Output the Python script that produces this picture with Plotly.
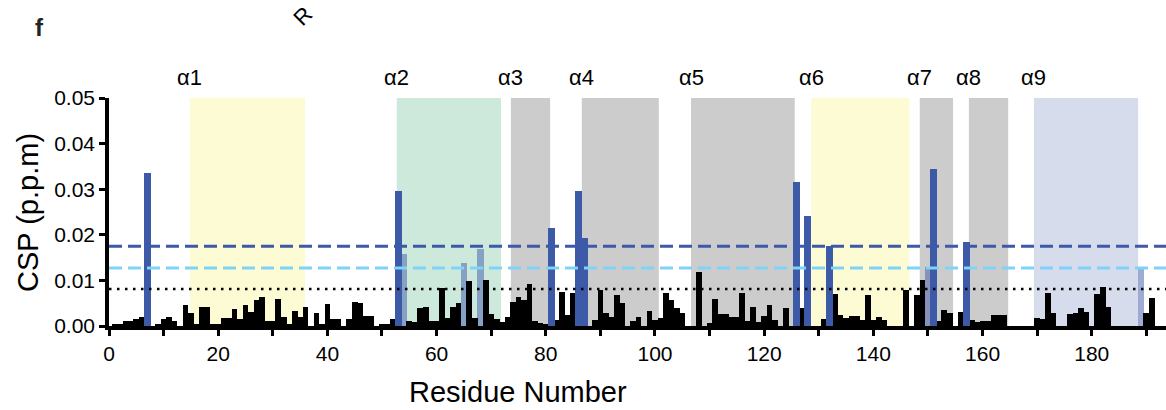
import plotly.graph_objects as go

# ---------------- data ----------------
residues = list(range(1, 193))
csp = [
    0.0003, 0.0003, 0.0011, 0.0012, 0.0015, 0.0020, 0.0336, 0.0000, 0.0004, 0.0016,  # 1-10
    0.0020, 0.0011, 0.0000, 0.0046, 0.0028, 0.0003, 0.0042, 0.0042, 0.0003, 0.0003,  # 11-20
    0.0017, 0.0017, 0.0037, 0.0015, 0.0046, 0.0031, 0.0056, 0.0064, 0.0011, 0.0011,  # 21-30
    0.0059, 0.0020, 0.0004, 0.0033, 0.0020, 0.0042, 0.0000, 0.0029, 0.0004, 0.0048,  # 31-40
    0.0015, 0.0015, 0.0000, 0.0015, 0.0053, 0.0051, 0.0022, 0.0022, 0.0000, 0.0004,  # 41-50
    0.0004, 0.0016, 0.0297, 0.0159, 0.0012, 0.0009, 0.0039, 0.0042, 0.0012, 0.0012,  # 51-60
    0.0083, 0.0017, 0.0042, 0.0050, 0.0138, 0.0099, 0.0017, 0.0168, 0.0101, 0.0026,  # 61-70
    0.0015, 0.0009, 0.0020, 0.0053, 0.0064, 0.0057, 0.0092, 0.0011, 0.0007, 0.0003,  # 71-80
    0.0214, 0.0013, 0.0075, 0.0024, 0.0073, 0.0297, 0.0194, 0.0000, 0.0013, 0.0078,  # 81-90
    0.0029, 0.0020, 0.0067, 0.0050, 0.0000, 0.0011, 0.0020, 0.0000, 0.0034, 0.0013,  # 91-100
    0.0018, 0.0072, 0.0056, 0.0040, 0.0029, 0.0000, 0.0000, 0.0119, 0.0000, 0.0006,  # 101-110
    0.0059, 0.0027, 0.0027, 0.0020, 0.0020, 0.0073, 0.0010, 0.0042, 0.0008, 0.0023,  # 111-120
    0.0045, 0.0014, 0.0000, 0.0040, 0.0000, 0.0316, 0.0040, 0.0242, 0.0000, 0.0000,  # 121-130
    0.0016, 0.0176, 0.0070, 0.0024, 0.0018, 0.0022, 0.0022, 0.0013, 0.0068, 0.0013,  # 131-140
    0.0020, 0.0013, 0.0000, 0.0000, 0.0000, 0.0079, 0.0000, 0.0067, 0.0101, 0.0129,  # 141-150
    0.0345, 0.0011, 0.0035, 0.0029, 0.0000, 0.0031, 0.0185, 0.0013, 0.0008, 0.0010,  # 151-160
    0.0010, 0.0024, 0.0024, 0.0024, 0.0000, 0.0000, 0.0000, 0.0000, 0.0000, 0.0018,  # 161-170
    0.0015, 0.0072, 0.0028, 0.0000, 0.0000, 0.0026, 0.0028, 0.0040, 0.0030, 0.0000,  # 171-180
    0.0070, 0.0086, 0.0042, 0.0000, 0.0000, 0.0000, 0.0000, 0.0000, 0.0125, 0.0028,  # 181-190
    0.0061, 0.0000,                                                                  # 191-192
]
strong_residues = [7, 53, 81, 86, 87, 126, 128, 132, 151, 157]
medium_residues = [54, 65, 68, 150, 189]

thresholds = [0.0175, 0.0127, 0.0081]

helix_names = ["α1", "α2", "α3", "α4", "α5", "α6", "α7", "α8", "α9"]
helix_start = [14.8, 52.7, 73.6, 86.6, 106.6, 128.6, 148.5, 157.5, 169.4]
helix_end = [35.9, 71.8, 80.8, 100.7, 125.6, 146.6, 154.6, 164.7, 188.5]
helix_colors = ["#fdfbd3", "#cde9dc", "#cccccc", "#cccccc", "#cccccc",
                "#fdfbd3", "#cccccc", "#cccccc", "#d7dcec"]

x_ticks = list(range(0, 200, 10))
x_ticktext = [str(v) if v % 20 == 0 else "" for v in x_ticks]
y_ticks = [0.0, 0.01, 0.02, 0.03, 0.04, 0.05]
y_ticktext = ["0.00", "0.01", "0.02", "0.03", "0.04", "0.05"]

# ---------------- figure ----------------
FONT = "Liberation Sans, Arial, sans-serif"
BLUE = "#3d5aa9"
LIGHTLINE = "#7fd3f7"

val = dict(zip(residues, csp))
black_x = [r for r in residues if r not in strong_residues and r not in medium_residues]
black_y = [val[r] for r in black_x]
strong_y = [val[r] for r in strong_residues]
medium_y = [val[r] for r in medium_residues]

fig = go.Figure()
fig.add_trace(go.Bar(x=medium_residues, y=medium_y, width=1.2,
                     marker=dict(color="rgba(61,90,169,0.5)", line=dict(width=0)),
                     showlegend=False))
fig.add_trace(go.Bar(x=black_x, y=black_y, width=1.05,
                     marker=dict(color="black", line=dict(width=0)),
                     showlegend=False))
fig.add_trace(go.Bar(x=strong_residues, y=strong_y, width=1.3,
                     marker=dict(color=BLUE, line=dict(width=0)),
                     showlegend=False))

# helix shading
for s, e, c in zip(helix_start, helix_end, helix_colors):
    fig.add_shape(type="rect", xref="x", yref="y", x0=s, x1=e, y0=0, y1=0.05,
                  fillcolor=c, line=dict(width=0), layer="below")

# thresholds
styles = [dict(color=BLUE, width=3, dash="13px,6px"),
          dict(color=LIGHTLINE, width=3, dash="13px,6px"),
          dict(color="black", width=2.5, dash="2.5px,5.5px")]
for t, st in zip(thresholds, styles):
    fig.add_shape(type="line", xref="paper", yref="y", x0=0, x1=1, y0=t, y1=t,
                  line=st, layer="above")

annotations = []
for name, s in zip(helix_names, helix_start):
    annotations.append(dict(x=s, y=1.088, xref="x", yref="paper", text=name,
                            showarrow=False, font=dict(size=22, color="black", family=FONT),
                            xanchor="center", yanchor="middle"))
annotations.append(dict(x=-0.066, y=1.31, xref="paper", yref="paper", text="<b>f</b>",
                        showarrow=False, font=dict(size=24, color="#222", family=FONT),
                        xanchor="center", yanchor="middle"))
annotations.append(dict(x=0.184, y=1.36, xref="paper", yref="paper", text="R",
                        textangle=-45, showarrow=False,
                        font=dict(size=22, color="black", family=FONT),
                        xanchor="center", yanchor="middle"))
annotations.append(dict(x=-0.0766, y=0.496, xref="paper", yref="paper", text="CSP (p.p.m)",
                        textangle=-90, showarrow=False,
                        font=dict(size=29, color="black", family=FONT),
                        xanchor="center", yanchor="middle"))
annotations.append(dict(x=0.387, y=-0.29, xref="paper", yref="paper", text="Residue Number",
                        showarrow=False, font=dict(size=29, color="black", family=FONT),
                        xanchor="center", yanchor="middle"))

fig.update_layout(
    width=1166, height=410,
    margin=dict(l=109, r=0, t=98, b=84),
    paper_bgcolor="white", plot_bgcolor="white",
    barmode="overlay", bargap=0,
    font=dict(family=FONT, color="black"),
    annotations=annotations,
)
fig.update_xaxes(range=[0, 193.6], tickmode="array", tickvals=x_ticks, ticktext=x_ticktext,
                 ticks="outside", ticklen=6, tickwidth=2.5, tickcolor="black",
                 showline=True, linewidth=3.5, linecolor="black", showgrid=False,
                 zeroline=False, tickfont=dict(size=21, family=FONT, color="black"))
fig.update_yaxes(range=[0, 0.05], tickmode="array", tickvals=y_ticks, ticktext=y_ticktext,
                 ticks="outside", ticklen=6, tickwidth=3, tickcolor="black",
                 showline=True, linewidth=3.5, linecolor="black", showgrid=False,
                 zeroline=False, tickfont=dict(size=21, family=FONT, color="black"))

fig.write_html("out.html")
